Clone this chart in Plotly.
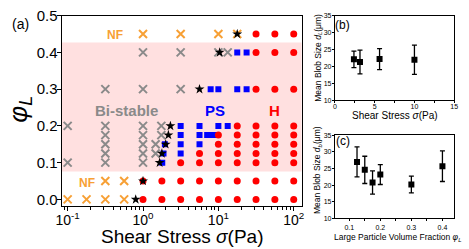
import math
import plotly.graph_objects as go

# ---------------- data: panel (a) phase diagram ----------------
nf_stress = [0.1, 0.178, 0.316, 0.562, 0.316, 0.562, 1.0, 3.16, 10, 17.8]
nf_phi = [0, 0, 0, 0, 0.05, 0.05, 0.45, 0.45, 0.45, 0.45]

bi_stress = [0.1, 0.316, 1.0,
             0.316, 1.0, 1.47,
             0.316, 1.0, 1.47,
             0.316, 1.0, 1.75,
             0.1, 0.316, 1.0, 1.75,
             0.316, 1.0, 3.16,
             1.0, 3.16, 10, 13.3]
bi_phi = [0.1, 0.1, 0.1,
          0.125, 0.125, 0.125,
          0.15, 0.15, 0.15,
          0.175, 0.175, 0.175,
          0.2, 0.2, 0.2, 0.2,
          0.3, 0.3, 0.3,
          0.4, 0.4, 0.4, 0.4]

ps_stress = [1.8,
             1.87, 3.16,
             1.95, 3.16, 5.62,
             3.16, 5.62, 7.1, 7.9, 8.9,
             3.16, 5.62, 10, 13.3,
             7.9, 10, 17.8, 23.7,
             17.8, 23.7]
ps_phi = [0.1,
          0.125, 0.125,
          0.15, 0.15, 0.15,
          0.175, 0.175, 0.175, 0.175, 0.175,
          0.2, 0.2, 0.2, 0.2,
          0.3, 0.3, 0.3, 0.3,
          0.4, 0.4]

h_rows = {
    0.0: [1, 1.78, 3.16, 5.62, 10, 17.8, 31.6, 56.2, 100],
    0.05: [1, 1.78, 3.16, 5.62, 10, 17.8, 31.6, 56.2, 100],
    0.1: [3.16, 5.62, 10, 17.8, 31.6, 56.2, 100],
    0.125: [5.62, 10, 17.8, 31.6, 56.2, 100],
    0.15: [10, 17.8, 31.6, 56.2, 100],
    0.175: [10, 17.8, 31.6, 56.2, 100],
    0.2: [17.8, 31.6, 56.2, 100],
    0.3: [31.6, 56.2, 100],
    0.4: [31.6, 56.2, 100],
    0.45: [31.6, 56.2, 100],
}
h_stress = [s for p, row in h_rows.items() for s in row]
h_phi = [p for p, row in h_rows.items() for s in row]

star_stress = [0.8, 1.0, 1.66, 1.78, 2.0, 2.17, 2.31, 5.62, 10.4, 17.8]
star_phi = [0, 0.05, 0.1, 0.125, 0.15, 0.175, 0.2, 0.3, 0.4, 0.45]

# ---------------- data: panel (b) ----------------
b_stress = [2.4, 3.16, 5.62, 10]
b_size = [22.1, 21.3, 22.2, 22.0]
b_err = [2.45, 3.5, 3.1, 4.3]

# ---------------- data: panel (c) ----------------
c_phi = [0.125, 0.15, 0.175, 0.2, 0.3, 0.4]
c_size = [27.0, 24.6, 20.8, 23.2, 20.2, 25.7]
c_err = [4.5, 4.1, 3.5, 3.0, 2.5, 4.6]

# tick labels
a_x_ticks = [0.1, 1.0, 10.0, 100.0]
a_x_labels = ["10<sup>-1</sup>", "10<sup>0</sup>", "10<sup>1</sup>", "10<sup>2</sup>"]
a_y_ticks = [0.0, 0.1, 0.2, 0.3, 0.4, 0.5]
a_y_labels = ["0.0", "0.1", "0.2", "0.3", "0.4", "0.5"]
b_x_ticks = [0.0, 5.0, 10.0, 15.0]
b_x_labels = ["0", "5", "10", "15"]
size_ticks = [10.0, 15.0, 20.0, 25.0, 30.0, 35.0]
size_labels = ["10", "15", "20", "25", "30", "35"]
c_x_ticks = [0.1, 0.2, 0.3, 0.4]
c_x_labels = ["0.1", "0.2", "0.3", "0.4"]

W, H = 469, 249
FONT = "Liberation Sans, Arial, sans-serif"
ORANGE = "#F7A035"
GREY = "#8A8A8A"


def px(x):
    return x / W


def py(y):
    return 1 - y / H


fig = go.Figure()

fig.add_trace(go.Scatter(x=nf_stress, y=nf_phi, mode="markers", xaxis="x", yaxis="y",
                         marker=dict(symbol="x-thin", size=8, line=dict(color=ORANGE, width=2))))
fig.add_trace(go.Scatter(x=bi_stress, y=bi_phi, mode="markers", xaxis="x", yaxis="y",
                         marker=dict(symbol="x-thin", size=8, line=dict(color=GREY, width=2))))
fig.add_trace(go.Scatter(x=ps_stress, y=ps_phi, mode="markers", xaxis="x", yaxis="y",
                         marker=dict(symbol="square", size=6, color="#0000FF", line=dict(width=0))))
fig.add_trace(go.Scatter(x=h_stress, y=h_phi, mode="markers", xaxis="x", yaxis="y",
                         marker=dict(symbol="circle", size=7, color="#FF0000", line=dict(width=0))))
fig.add_trace(go.Scatter(x=star_stress, y=star_phi, mode="markers", xaxis="x", yaxis="y",
                         marker=dict(symbol="star", size=7.5, color="black", line=dict(width=0))))

fig.add_trace(go.Scatter(x=b_stress, y=b_size, mode="markers", xaxis="x2", yaxis="y2",
                         error_y=dict(type="data", array=b_err, color="black", thickness=1.3, width=2.5),
                         marker=dict(symbol="square", size=6, color="black")))
fig.add_trace(go.Scatter(x=c_phi, y=c_size, mode="markers", xaxis="x3", yaxis="y3",
                         error_y=dict(type="data", array=c_err, color="black", thickness=1.3, width=2.5),
                         marker=dict(symbol="square", size=6, color="black")))

axis_common = dict(showline=True, mirror=True, linecolor="black", linewidth=1,
                   showgrid=False, zeroline=False, ticks="outside", tickcolor="black",
                   ticklabeloverflow="allow")
small_tick = dict(size=7, family=FONT, color="black")

fig.update_layout(
    width=W, height=H, margin=dict(l=0, r=0, t=0, b=0),
    paper_bgcolor="white", plot_bgcolor="white", showlegend=False,
    font=dict(family=FONT, color="black"),
    xaxis=dict(axis_common, type="log", domain=[px(57), px(302)], range=[-1.078, 2.104],
               tickmode="array", tickvals=a_x_ticks, ticktext=a_x_labels,
               tickfont=dict(size=14), ticklen=4, linewidth=1.3, ticklabelstandoff=-3,
               minor=dict(ticks="outside", ticklen=2.5, dtick="D1", tickcolor="black")),
    yaxis=dict(axis_common, domain=[py(207), py(7)], range=[-0.018, 0.5],
               tickmode="array", tickvals=a_y_ticks, ticktext=a_y_labels,
               tickfont=dict(size=15), ticklen=4, linewidth=1.3, ticklabelstandoff=-4),
    xaxis2=dict(axis_common, anchor="y2", domain=[px(336), px(458)], range=[0, 15],
                tickmode="array", tickvals=b_x_ticks, ticktext=b_x_labels,
                tickfont=small_tick, ticklen=2, ticklabelstandoff=-3,
                minor=dict(ticks="outside", ticklen=1.5, tickvals=[2.5, 7.5, 12.5])),
    yaxis2=dict(axis_common, anchor="x2", domain=[py(96), py(7)], range=[10, 35],
                tickmode="array", tickvals=size_ticks, ticktext=size_labels,
                tickfont=small_tick, ticklen=2, ticklabelstandoff=-1),
    xaxis3=dict(axis_common, anchor="y3", domain=[px(336), px(458)], range=[0.0536, 0.438],
                tickmode="array", tickvals=c_x_ticks, ticktext=c_x_labels,
                tickfont=small_tick, ticklen=2,
                minor=dict(ticks="outside", ticklen=1.5, dtick=0.05)),
    yaxis3=dict(axis_common, anchor="x3", domain=[py(220), py(132.7)], range=[10, 35],
                tickmode="array", tickvals=size_ticks, ticktext=size_labels,
                tickfont=small_tick, ticklen=2, ticklabelstandoff=-1),
)

# pink bi-stable band
fig.add_shape(type="rect", xref="x domain", yref="y", x0=0, x1=1, y0=0.076, y1=0.427,
              fillcolor="#FFE0E0", line=dict(width=0), layer="below")

ann = []


def paper_text(x, y, text, size, angle=0, color="black"):
    ann.append(dict(x=px(x), y=py(y), xref="paper", yref="paper", text=text, showarrow=False,
                    textangle=angle, xanchor="center", yanchor="middle",
                    font=dict(size=size, color=color, family=FONT)))


def data_text(sx, phi, text, size, color):
    ann.append(dict(x=math.log10(sx), y=phi, xref="x", yref="y", text="<b>" + text + "</b>",
                    showarrow=False, xanchor="center", yanchor="middle",
                    font=dict(size=size, color=color, family=FONT)))


data_text(0.42, 0.448, "NF", 12, ORANGE)
data_text(0.178, 0.044, "NF", 12, ORANGE)
data_text(0.6, 0.242, "Bi-stable", 15, GREY)
data_text(9.1, 0.243, "PS", 15, "#0000FF")
data_text(56, 0.243, "H", 15, "#FF0000")

paper_text(15, 16, "(a)", 14)
paper_text(180, 239, "Shear Stress <i>σ</i>(Pa)", 19)
paper_text(14, 105, "<i>φ</i><sub><i>L</i></sub>", 26, angle=-90)

paper_text(344, 17, "(b)", 12)
paper_text(397, 112, "Shear Stress <i>σ</i>(Pa)", 10)
paper_text(319, 51, "Mean Blob Size <i>d<sub>L</sub></i>(μm)", 8.5, angle=-90)

paper_text(344, 139, "(c)", 12)
paper_text(400, 240, "Large Particle Volume Fraction <i>φ<sub>L</sub></i>", 8.5)
paper_text(319, 169, "Mean Blob Size <i>d<sub>b</sub></i>(μm)", 8.5, angle=-90)

fig.update_layout(annotations=ann)

fig.write_html("out.html", config={"displayModeBar": False},
               post_script="document.body.style.margin='0px';document.body.style.overflow='hidden';")
